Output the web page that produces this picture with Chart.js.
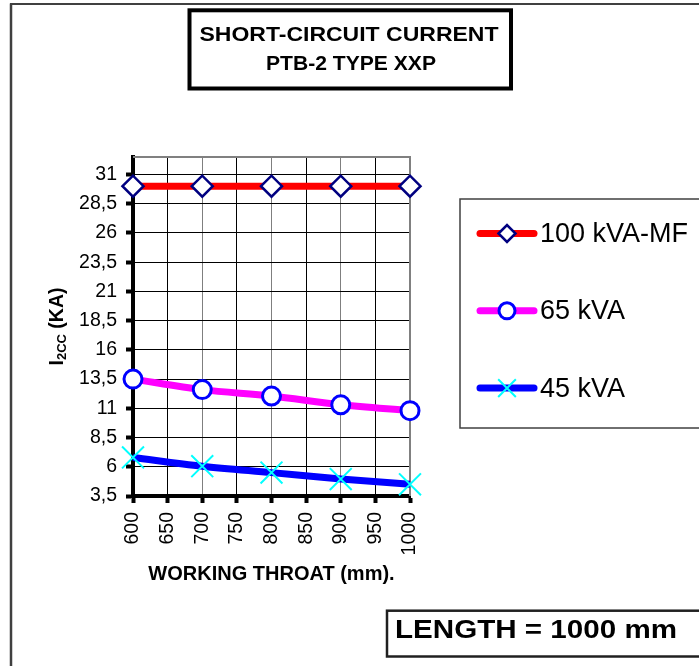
<!DOCTYPE html>
<html><head><meta charset="utf-8">
<script src="https://cdn.jsdelivr.net/npm/chart.js@4"></script>
<style>html,body{margin:0;padding:0;background:#fff}canvas{display:block}</style>
</head><body>
<canvas id="c" width="699" height="666"></canvas>
<script>
// ---- data ----
const throat = [600, 700, 800, 900, 1000];
const kva100 = [30, 30, 30, 30, 30];
const kva65 = [13.5, 12.6, 12.05, 11.3, 10.8];
const kva45 = [6.8, 6.05, 5.5, 4.95, 4.5];
const seriesNames = ['100 kVA-MF', '65 kVA', '45 kVA'];
const xTicks = [600, 650, 700, 750, 800, 850, 900, 950, 1000];
const yTicks = [3.5, 6, 8.5, 11, 13.5, 16, 18.5, 21, 23.5, 26, 28.5, 31];
const titleLines = ['SHORT-CIRCUIT CURRENT', 'PTB-2 TYPE XXP'];
const xTitle = 'WORKING THROAT (mm).';
const yTitleMain = 'I', yTitleSub = '2CC', yTitleRest = ' (KA)';
const noteText = 'LENGTH = 1000 mm';

const FONT = '"Liberation Sans", Arial, sans-serif';
const toPts = ys => throat.map((x, i) => ({x: x, y: ys[i]}));

function fitText(ctx, text, x, y, font, targetW, align) {
  ctx.save();
  ctx.font = font;
  const w = ctx.measureText(text).width;
  const s = targetW / w;
  ctx.translate(x, y);
  ctx.scale(s, 1);
  ctx.textAlign = align || 'center';
  ctx.textBaseline = 'middle';
  ctx.fillStyle = '#000';
  ctx.fillText(text, 0, 0);
  ctx.restore();
}

const decor = {
  id: 'decor',
  beforeDraw(chart) {
    const ctx = chart.ctx;
    ctx.save();
    ctx.fillStyle = '#fff';
    ctx.fillRect(0, 0, chart.width, chart.height);
    ctx.strokeStyle = '#000'; ctx.lineWidth = 1.5;
    ctx.beginPath(); ctx.moveTo(10, 4); ctx.lineTo(chart.width, 4); ctx.stroke();
    ctx.strokeStyle = '#404040'; ctx.lineWidth = 2.5;
    ctx.beginPath(); ctx.moveTo(11, 3.5); ctx.lineTo(11, chart.height); ctx.stroke();
    ctx.restore();
  },
  beforeDatasetsDraw(chart) {
    const ctx = chart.ctx, a = chart.chartArea;
    ctx.save();
    ctx.strokeStyle = '#808080'; ctx.lineWidth = 2;
    ctx.beginPath();
    ctx.moveTo(a.left, a.top); ctx.lineTo(a.right, a.top); ctx.lineTo(a.right, a.bottom);
    ctx.stroke();
    ctx.restore();
  },
  afterDraw(chart) {
    const ctx = chart.ctx, a = chart.chartArea;
    ctx.save();
    ctx.strokeStyle = '#000'; ctx.lineWidth = 4;
    ctx.strokeRect(189.5, 10.3, 321.5, 78.2);
    fitText(ctx, titleLines[0], 349, 35.5, 'bold 21px ' + FONT, 299);
    fitText(ctx, titleLines[1], 351, 64, 'bold 21px ' + FONT, 170);

    ctx.save();
    ctx.translate(56, (a.top + a.bottom) / 2);
    ctx.rotate(-Math.PI / 2);
    ctx.fillStyle = '#000';
    ctx.textBaseline = 'alphabetic';
    const fMain = 'bold 19.5px ' + FONT, fSub = 'bold 13px ' + FONT;
    ctx.font = fMain; const w1 = ctx.measureText(yTitleMain).width, w3 = ctx.measureText(yTitleRest).width;
    ctx.font = fSub; const w2 = ctx.measureText(yTitleSub).width;
    let x0 = -(w1 + w2 + w3) / 2;
    const base = 7;
    ctx.textAlign = 'left';
    ctx.font = fMain; ctx.fillText(yTitleMain, x0, base);
    ctx.font = fSub; ctx.fillText(yTitleSub, x0 + w1, base + 3);
    ctx.font = fMain; ctx.fillText(yTitleRest, x0 + w1 + w2, base);
    ctx.restore();

    ctx.strokeStyle = '#404040'; ctx.lineWidth = 1.5;
    ctx.strokeRect(460, 199, 260, 229);
    chart.data.datasets.forEach((ds, i) => {
      const cy = 233.5 + i * 77.3;
      ctx.save();
      ctx.strokeStyle = ds.borderColor; ctx.lineWidth = 7; ctx.lineCap = 'round';
      ctx.beginPath(); ctx.moveTo(480, cy); ctx.lineTo(534, cy); ctx.stroke();
      ctx.restore();
      ctx.save();
      ctx.fillStyle = ds.pointBackgroundColor; ctx.strokeStyle = ds.pointBorderColor;
      ctx.lineWidth = ds.pointBorderWidth;
      Chart.helpers.drawPoint(ctx, {pointStyle: ds.pointStyle, radius: ds.legendRadius, borderWidth: ds.pointBorderWidth, rotation: 0}, 507, cy);
      ctx.restore();
      ctx.fillStyle = '#000'; ctx.font = '27px ' + FONT;
      ctx.textAlign = 'left'; ctx.textBaseline = 'middle';
      ctx.fillText(ds.label, 540, cy + 1);
    });

    ctx.strokeStyle = '#202020'; ctx.lineWidth = 2.5;
    ctx.strokeRect(387, 610.7, 340, 45.8);
    fitText(ctx, noteText, 395, 631, 'bold 26px ' + FONT, 282, 'left');
    ctx.restore();
  }
};

new Chart(document.getElementById('c'), {
  type: 'line',
  data: {
    datasets: [
      {label: seriesNames[0], data: toPts(kva100), borderColor: '#ff0000', borderWidth: 7,
       pointStyle: 'rectRot', pointRadius: 10.5, legendRadius: 8.5, pointBorderColor: '#000080',
       pointBackgroundColor: '#ffffff', pointBorderWidth: 2.5, clip: false, tension: 0},
      {label: seriesNames[1], data: toPts(kva65), borderColor: '#ff00ff', borderWidth: 7,
       pointStyle: 'circle', pointRadius: 9, legendRadius: 8, pointBorderColor: '#0000ff',
       pointBackgroundColor: '#ffffff', pointBorderWidth: 3, clip: false, cubicInterpolationMode: 'monotone'},
      {label: seriesNames[2], data: toPts(kva45), borderColor: '#0000ff', borderWidth: 7,
       pointStyle: 'crossRot', pointRadius: 15.5, legendRadius: 12.5, pointBorderColor: '#00ffff',
       pointBackgroundColor: '#00ffff', pointBorderWidth: 2, clip: false, cubicInterpolationMode: 'monotone'}
    ]
  },
  options: {
    responsive: false,
    animation: false,
    layout: {padding: {left: 0, top: 157, right: 289, bottom: 0}},
    plugins: {legend: {display: false}, tooltip: {enabled: false}, title: {display: false}},
    scales: {
      x: {
        type: 'linear', min: 600, max: 1000,
        afterBuildTicks: s => { s.ticks = xTicks.map(v => ({value: v})); },
        afterFit: s => { s.height = 170; },
        ticks: {autoSkip: false, minRotation: 90, maxRotation: 90, padding: 9, color: '#000',
                font: {family: FONT, size: 19.5}, callback: v => String(v)},
        grid: {color: c => (c.tick && c.tick.value % 100 === 0) ? '#7f7f7f' : '#000000',
               lineWidth: 1, tickLength: 7, tickWidth: 4, tickColor: '#000'},
        border: {color: '#000', width: 4},
        title: {display: true, text: xTitle, color: '#000', padding: {top: 0, bottom: 80},
                font: {family: FONT, size: 20, weight: 'bold'}}
      },
      y: {
        type: 'linear', min: 3.5, max: 32.5,
        afterBuildTicks: s => { s.ticks = yTicks.map(v => ({value: v})); },
        afterFit: s => { s.width = 133; },
        ticks: {padding: 9, color: '#000', font: {family: FONT, size: 19.5},
                callback: v => String(v).replace('.', ',')},
        grid: {color: '#000', lineWidth: 1, tickLength: 7, tickWidth: 4, tickColor: '#000'},
        border: {color: '#000', width: 4}
      }
    }
  },
  plugins: [decor]
});
</script>
</body></html>
